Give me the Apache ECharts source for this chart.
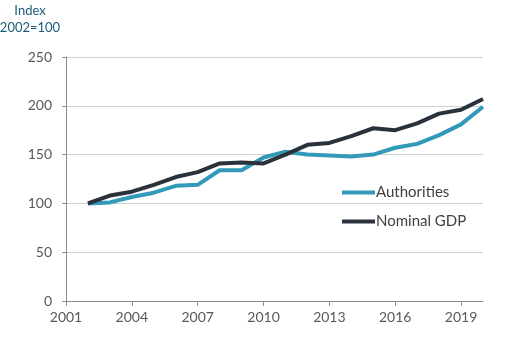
<!DOCTYPE html>
<html><head><meta charset="utf-8">
<script src="https://cdn.jsdelivr.net/npm/echarts@6/dist/echarts.min.js"></script>
<style>html,body{margin:0;padding:0;background:#fff}#c{width:510px;height:341px}</style>
</head><body><div id="c"></div>
<script>
const years = [2002,2003,2004,2005,2006,2007,2008,2009,2010,2011,2012,2013,2014,2015,2016,2017,2018,2019,2020];
const authorities = [100,101,106.5,111,118,119,134,134,147,153,150,149,148,150,157,161,170,181,199];
const nominalGDP = [100,108,112,119,127,132,141,142,141,150,160,162,169,177,175,182,192,196,207];
const yTicks = [0,50,100,150,200,250];
const xTicks = [2001,2004,2007,2010,2013,2016,2019];

const F = 'Lato, "Open Sans", sans-serif';
const chart = echarts.init(document.getElementById('c'), null, {renderer:'canvas'});
chart.setOption({
  animation:false,
  textStyle:{fontFamily:F},
  title:[
    {text:'Index', left:30, top:4, textAlign:'center', padding:0,
      textStyle:{fontSize:13, fontWeight:'normal', color:'#1b5a78', fontFamily:F}},
    {text:'2002=100', left:30, top:21, textAlign:'center', padding:0,
      textStyle:{fontSize:13, fontWeight:'normal', color:'#1b5a78', fontFamily:F}}
  ],
  grid:{left:66, right:27, top:57, bottom:40},
  legend:{orient:'vertical', left:337, top:180, itemWidth:33, itemHeight:4, itemGap:14, icon:'rect',
    textStyle:{fontSize:15, color:'#404040', fontFamily:F, padding:[0,0,0,-4]},
    data:['Authorities','Nominal GDP']},
  xAxis:{type:'value', min:2001, max:2020, interval:3,
    axisLine:{show:true, lineStyle:{color:'#8c8c8c', width:1}},
    axisTick:{show:true, length:5, lineStyle:{color:'#8c8c8c'}},
    splitLine:{show:false},
    axisLabel:{showMaxLabel:false, color:'#595959', fontSize:14, margin:9, fontFamily:F, formatter:v=>String(v)}},
  yAxis:{type:'value', min:0, max:250, interval:50,
    axisLine:{show:true, lineStyle:{color:'#8c8c8c', width:1}},
    axisTick:{show:true, length:4, lineStyle:{color:'#8c8c8c'}},
    splitLine:{show:true, lineStyle:{color:'#d0d0d0', width:1}},
    axisLabel:{color:'#595959', fontSize:14, margin:14, fontFamily:F}},
  series:[
    {name:'Authorities', type:'line', symbol:'none', data:years.map((y,i)=>[y,authorities[i]]),
      lineStyle:{color:'#3399b9', width:4}, itemStyle:{color:'#3399b9'}, z:2},
    {name:'Nominal GDP', type:'line', symbol:'none', data:years.map((y,i)=>[y,nominalGDP[i]]),
      lineStyle:{color:'#2a323c', width:4}, itemStyle:{color:'#2a323c'}, z:3}
  ]
});
</script></body></html>
